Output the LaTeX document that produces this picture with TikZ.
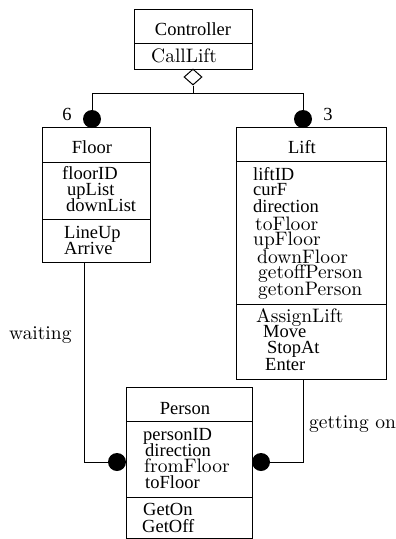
\documentclass[tikz,border=0pt]{standalone}
\usepackage{fontspec}
\newfontfamily\tmf{Liberation Serif}
\newfontfamily\cmf[Extension=.otf]{lmroman10-regular}
\usetikzlibrary{shapes.geometric}
\begin{document}
\begin{tikzpicture}[x=1pt,y=-1pt,
  clsbox/.style={draw, line width=1pt, inner sep=0pt, anchor=north west},
  tmtext/.style={font=\tmf\fontsize{18.5}{16}\selectfont, inner sep=0pt, anchor=base west},
  cmtext/.style={font=\cmf\fontsize{19.5}{16}\selectfont, inner sep=0pt, anchor=base west},
  ball/.style={circle, fill=black, inner sep=0pt, minimum size=18pt},
  agg/.style={diamond, draw, fill=white, line width=1pt, inner sep=0pt, minimum width=18pt, minimum height=16pt},
  ln/.style={line width=1pt}]
\useasboundingbox (0,0) rectangle (396,539);
% Controller
\node[clsbox, minimum width=118pt, minimum height=60pt] (ctrl) at (134,9) {};
\draw[ln] (ctrl.west |- 0,43) -- (ctrl.east |- 0,43);
\node[tmtext, anchor=base] (ctrlname) at (193,35) {Controller};
\node[cmtext] (calllift) at (151,62) {CallLift};
% Floor
\node[clsbox, minimum width=108pt, minimum height=135pt] (floor) at (42,127) {};
\draw[ln] (floor.west |- 0,162) -- (floor.east |- 0,162);
\draw[ln] (floor.west |- 0,219) -- (floor.east |- 0,219);
\node[tmtext, anchor=base] (floorname) at (92,153) {Floor};
\node[tmtext] (f1) at (62,179) {floorID};
\node[tmtext] (f2) at (67,195) {upList};
\node[tmtext] (f3) at (66,211) {downList};
\node[tmtext] (f4) at (64,238) {LineUp};
\node[tmtext] (f5) at (64,254) {Arrive};
% Lift
\node[clsbox, minimum width=150pt, minimum height=252pt] (lift) at (236,127) {};
\draw[ln] (lift.west |- 0,161) -- (lift.east |- 0,161);
\draw[ln] (lift.west |- 0,304) -- (lift.east |- 0,304);
\node[tmtext, anchor=base] (liftname) at (302,153) {Lift};
\node[tmtext] (l1) at (253,180) {liftID};
\node[tmtext] (l2) at (253,195) {curF};
\node[tmtext] (l3) at (253,212) {direction};
\node[cmtext] (l4) at (255,230) {toFloor};
\node[cmtext] (l5) at (253,245) {upFloor};
\node[cmtext] (l6) at (257,263) {downFloor};
\node[cmtext] (l7) at (258,278) {getoffPerson};
\node[cmtext] (l8) at (258,295) {getonPerson};
\node[cmtext] (l9) at (256,322) {AssignLift};
\node[tmtext] (l10) at (263,337) {Move};
\node[tmtext] (l11) at (267,353) {StopAt};
\node[tmtext] (l12) at (265,370) {Enter};
% Person
\node[clsbox, minimum width=126pt, minimum height=151pt] (person) at (126,387) {};
\draw[ln] (person.west |- 0,421) -- (person.east |- 0,421);
\draw[ln] (person.west |- 0,497) -- (person.east |- 0,497);
\node[tmtext, anchor=base] (personname) at (185,414) {Person};
\node[tmtext] (p1) at (143,440) {personID};
\node[tmtext] (p2) at (145,456) {direction};
\node[cmtext] (p3) at (144,472) {fromFloor};
\node[tmtext] (p4) at (145,488) {toFloor};
\node[tmtext] (p5) at (143,515) {GetOn};
\node[tmtext] (p6) at (142,532) {GetOff};
% aggregation
\node[agg] (dia) at (193,77) {};
\coordinate (jc) at (193,93);
\coordinate (jl) at (92,93);
\coordinate (jr) at (303,93);
\node[ball] (fball) at (92,119) {};
\node[ball] (lball) at (303,119) {};
\draw[ln] (dia.south) -- (jc);
\draw[ln] (fball) -- (jl) -- (jr) -- (lball);
\node[font=\tmf\fontsize{18.5}{16}\selectfont, inner sep=0pt] (m6) at (67,114) {6};
\node[font=\tmf\fontsize{18.5}{16}\selectfont, inner sep=0pt] (m3) at (328,114) {3};
% waiting
\coordinate (wl) at (84,462);
\node[ball] (pb1) at (117,462) {};
\draw[ln] (floor.south -| wl) -- (wl) -- (pb1);
\node[cmtext] (waiting) at (9,339) {waiting};
% getting on
\coordinate (gr) at (303,462);
\node[ball] (pb2) at (261,462) {};
\draw[ln] (lift.south -| gr) -- (gr) -- (pb2);
\node[cmtext] (getting) at (309,428) {getting on};
\end{tikzpicture}
\end{document}
